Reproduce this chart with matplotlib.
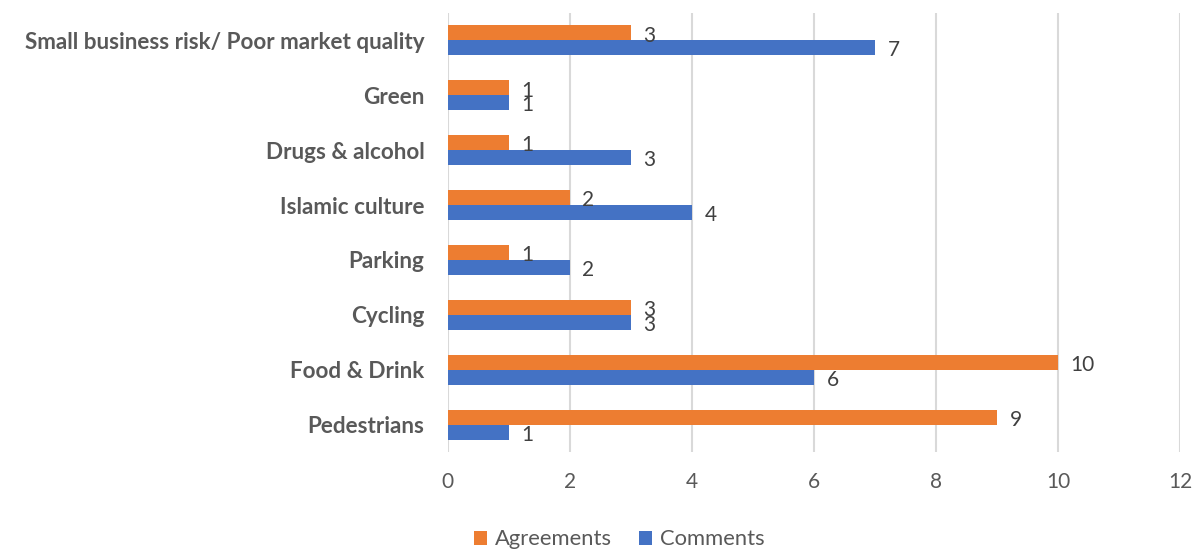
import numpy as np
import matplotlib.pyplot as plt

plt.rcParams['font.family'] = ['Lato', 'DejaVu Sans']

# Daten (von unten nach oben)
categories = ['Pedestrians', 'Food & Drink', 'Cycling', 'Parking',
              'Islamic culture', 'Drugs & alcohol', 'Green',
              'Small business risk/ Poor market quality']
comments = [1, 6, 3, 2, 4, 3, 1, 7]
agreements = [9, 10, 3, 1, 2, 1, 1, 3]

orange = '#ED7D31'
blue = '#4472C4'
grey = '#595959'

fig = plt.figure(figsize=(12.04, 5.49), dpi=100)
ax = fig.add_axes([0.372, 0.176, 0.608, 0.801])

y = np.arange(len(categories))
h = 0.267
b1 = ax.barh(y + h / 2, agreements, height=h, color=orange, label='Agreements', zorder=3)
b2 = ax.barh(y - h / 2, comments, height=h, color=blue, label='Comments', zorder=3)

for bars in (b1, b2):
    for bar in bars:
        w = bar.get_width()
        yc = bar.get_y() + bar.get_height() / 2
        ax.annotate(f'{w:g}', (w, yc), xytext=(9, -2), textcoords='offset points',
                    ha='left', va='center', fontsize=15, color='#404040')

ax.set_xlim(0, 12)
ax.set_ylim(-0.5, len(categories) - 0.5)
ax.set_xticks(range(0, 13, 2))
ax.set_yticks(y)
ax.set_yticklabels(categories, fontsize=16.2, fontweight='bold', color=grey)
ax.tick_params(axis='x', labelsize=15, labelcolor=grey, length=0, pad=14)
ax.tick_params(axis='y', length=0, pad=17)
ax.grid(axis='x', color='#D9D9D9', linewidth=1.5, zorder=0)
for s in ax.spines.values():
    s.set_visible(False)

ax.legend(loc='upper center', bbox_to_anchor=(0.234, -0.13), ncol=2, frameon=False,
          fontsize=15.8, labelcolor=grey, handlelength=0.6, handleheight=0.6,
          columnspacing=1.25, handletextpad=0.35)

plt.savefig('out.png', dpi=100)
